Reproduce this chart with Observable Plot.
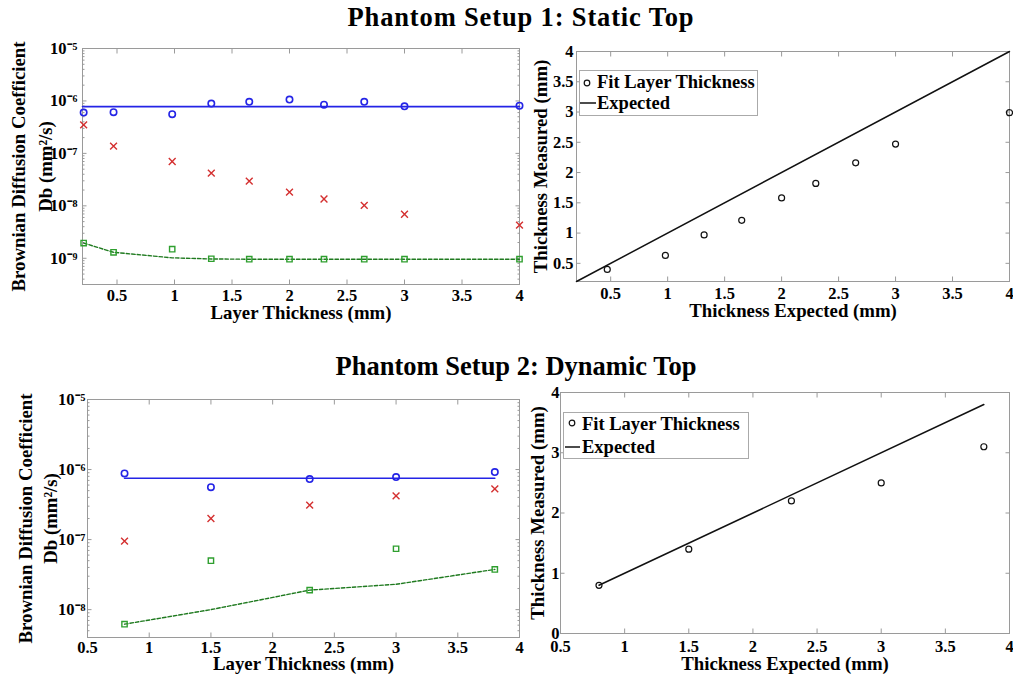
<!DOCTYPE html>
<html>
<head>
<meta charset="utf-8">
<script src="https://cdn.jsdelivr.net/npm/d3@7"></script>
<script src="https://cdn.jsdelivr.net/npm/@observablehq/plot@0.6"></script>
<style>
  html, body { margin: 0; padding: 0; background: white; }
  #fig { position: relative; width: 1013px; height: 674px; overflow: hidden; font-family: "Liberation Serif", "Times New Roman", serif; font-weight: bold; color: #000; }
  .title { position: absolute; font-size: 26.5px; line-height: 26px; white-space: nowrap; transform: translateX(-50%); }
  .legend { position: absolute; }
</style>
</head>
<body>
<div id="fig">
  <div class="title" style="left:521px; top:4px; letter-spacing:0.85px;">Phantom Setup 1: Static Top</div>
  <div class="title" style="left:516px; top:353px;">Phantom Setup 2: Dynamic Top</div>
</div>
<script>
// ---------- Data: Phantom Setup 1 (Static Top) ----------
const thick1    = [0.21, 0.47, 0.98, 1.32, 1.65, 2.0, 2.3, 2.65, 3.0, 4.0];
const blue1     = [6.0e-7, 6.1e-7, 5.6e-7, 8.9e-7, 9.6e-7, 1.06e-6, 8.5e-7, 9.6e-7, 7.9e-7, 8.1e-7];
const red1      = [3.5e-7, 1.38e-7, 7.0e-8, 4.2e-8, 2.95e-8, 1.82e-8, 1.35e-8, 1.02e-8, 6.9e-9, 4.3e-9];
const green1    = [1.95e-9, 1.3e-9, 1.49e-9, 0.98e-9, 0.96e-9, 0.96e-9, 0.96e-9, 0.96e-9, 0.96e-9, 0.96e-9];
const greenFit1 = [1.95e-9, 1.3e-9, 1.02e-9, 0.97e-9, 0.96e-9, 0.96e-9, 0.96e-9, 0.96e-9, 0.96e-9, 0.96e-9];
const blueFit1  = 7.8e-7;
const blueFitRange1 = [0.2, 4.0];
const expected1 = [0.47, 0.98, 1.32, 1.65, 2.0, 2.3, 2.65, 3.0, 4.0];
const measured1 = [0.40, 0.63, 0.97, 1.21, 1.58, 1.82, 2.16, 2.47, 2.99];
const expectedLine1 = [0.2, 4.0];

// ---------- Data: Phantom Setup 2 (Dynamic Top) ----------
const thick2    = [0.8, 1.5, 2.3, 3.0, 3.8];
const blue2     = [8.8e-7, 5.6e-7, 7.3e-7, 7.8e-7, 9.2e-7];
const red2      = [9.5e-8, 2.0e-7, 3.1e-7, 4.2e-7, 5.3e-7];
const green2    = [6.2e-9, 5.0e-8, 1.9e-8, 7.4e-8, 3.75e-8];
const greenFit2 = [6.2e-9, 1.0e-8, 1.9e-8, 2.3e-8, 3.75e-8];
const blueFit2  = 7.5e-7;
const blueFitRange2 = [0.8, 3.8];
const expected2 = [0.8, 1.5, 2.3, 3.0, 3.8];
const measured2 = [0.8, 1.4, 2.2, 2.5, 3.1];
const expectedLine2 = [0.8, 3.8];

// ---------- Ticks / labels ----------
const xTicks = [0.5, 1, 1.5, 2, 2.5, 3, 3.5, 4];
const yTicksLog1 = [1e-9, 1e-8, 1e-7, 1e-6, 1e-5];
const yTicksLog2 = [1e-8, 1e-7, 1e-6, 1e-5];
const yTicksLin1 = [0.5, 1, 1.5, 2, 2.5, 3, 3.5, 4];
const yTicksLin2 = [0, 1, 2, 3, 4];
const minorMult = [2, 3, 4, 5, 6, 7, 8, 9];
const yLabelLine1 = "Brownian Diffusion Coefficient";
const yLabelLine2 = "Db (mm\u00b2/s)";
const xLabelLayer = "Layer Thickness (mm)";
const xLabelExp = "Thickness Expected (mm)";
const yLabelMeas = "Thickness Measured (mm)";
const legendFit = "Fit Layer Thickness";
const legendExp = "Expected";

// ---------- Styling ----------
const BLUE = "#2424e6", RED = "#d43030", GREEN = "#2f9f2f", GREEN_D = "#1f7a1f";
const AX = "#9a9a9a";
const FONT = "Liberation Serif";
const LABEL_SIZE = 18.8;

const supMap = {"-": "\u207b", "0": "\u2070", "1": "\u00b9", "2": "\u00b2", "3": "\u00b3", "4": "\u2074", "5": "\u2075", "6": "\u2076", "7": "\u2077", "8": "\u2078", "9": "\u2079"};
const powFmt = d => "10" + String(Math.round(Math.log10(d))).split("").map(c => supMap[c]).join("");
const numFmt = d => String(d);

function minorLog(decades, domain) {
  const out = [];
  for (const p of decades) for (const m of minorMult) { const v = m * p; if (v > domain[0] && v < domain[1]) out.push(v); }
  return out;
}

function boxTicks(xt, yt, opts = {}) {
  const marks = [
    Plot.axisX({ticks: xt, anchor: "bottom", tickSize: -4.5, tickFormat: () => "", stroke: AX, label: null}),
    Plot.axisX({ticks: xt, anchor: "top", tickSize: -4.5, tickFormat: () => "", stroke: AX, label: null}),
    Plot.axisY({ticks: yt, anchor: "left", tickSize: -4.5, tickFormat: () => "", stroke: AX, label: null}),
    Plot.axisY({ticks: yt, anchor: "right", tickSize: -4.5, tickFormat: () => "", stroke: AX, label: null})
  ];
  if (opts.minor) {
    marks.push(
      Plot.axisY({ticks: opts.minor, anchor: "left", tickSize: -2.5, tickFormat: () => "", stroke: AX, label: null}),
      Plot.axisY({ticks: opts.minor, anchor: "right", tickSize: -2.5, tickFormat: () => "", stroke: AX, label: null})
    );
  }
  return marks;
}

const baseStyle = {fontFamily: FONT, fontSize: "16px", fontWeight: "bold", background: "transparent", overflow: "visible", color: "#000"};

function rows(xs, cols) {
  return xs.map((x, i) => { const r = {x}; for (const k in cols) r[k] = cols[k][i]; return r; });
}

// ---------- Panel builders ----------
function dbPanel({xs, blue, red, green, greenFit, blueFit, blueRange, xDomain, yDomain, yTicks, width, height, margins, xPad, yPad, yl1dx, yl2dx, xlDy}) {
  const data = rows(xs, {blue, red, green, greenFit});
  const fitLine = blueRange.map(x => ({x, y: blueFit}));
  const minor = minorLog([1e-10, 1e-9, 1e-8, 1e-7, 1e-6], yDomain);
  return Plot.plot({
    width, height, ...margins,
    style: baseStyle,
    x: {domain: xDomain, label: null},
    y: {type: "log", domain: yDomain, label: null},
    marks: [
      Plot.frame({stroke: AX}),
      ...boxTicks(xTicks, yTicks, {minor}),
      Plot.axisX({ticks: xTicks, anchor: "bottom", tickSize: 0, tickPadding: xPad, tickFormat: numFmt, label: null, fontSize: 16.5}),
      Plot.axisY({ticks: yTicks, anchor: "left", tickSize: 0, tickPadding: yPad, tickFormat: powFmt, label: null, fontSize: 16.5}),
      Plot.line(fitLine, {x: "x", y: "y", stroke: BLUE, strokeWidth: 1.6}),
      Plot.line(data, {x: "x", y: "greenFit", stroke: GREEN_D, strokeWidth: 1.4, strokeDasharray: "3.5,2"}),
      Plot.dot(data, {x: "x", y: "blue", symbol: "circle", r: 3.2, stroke: BLUE, strokeWidth: 1.6, fill: "none"}),
      Plot.dot(data, {x: "x", y: "red", symbol: "times", r: 3.2, stroke: RED, strokeWidth: 1.4, fill: "none"}),
      Plot.dot(data, {x: "x", y: "green", symbol: "square", r: 3.0, stroke: GREEN, strokeWidth: 1.4, fill: "none"}),
      Plot.text([yLabelLine1], {text: d => d, frameAnchor: "left", textAnchor: "middle", rotate: -90, dx: yl1dx, fontSize: LABEL_SIZE, fontWeight: "bold"}),
      Plot.text([yLabelLine2], {text: d => d, frameAnchor: "left", textAnchor: "middle", rotate: -90, dx: yl2dx, fontSize: LABEL_SIZE, fontWeight: "bold"}),
      Plot.text([xLabelLayer], {text: d => d, frameAnchor: "bottom", lineAnchor: "top", dy: xlDy, fontSize: LABEL_SIZE, fontWeight: "bold"})
    ]
  });
}

function thickPanel({expected, measured, line, xDomain, yDomain, yTicks, width, height, margins, xPad, yPad, yldx, xlDy}) {
  const data = rows(expected, {measured});
  const lineData = line.map(v => ({x: v, y: v}));
  return Plot.plot({
    width, height, ...margins,
    style: baseStyle,
    x: {domain: xDomain, label: null},
    y: {domain: yDomain, label: null},
    marks: [
      Plot.frame({stroke: AX}),
      ...boxTicks(xTicks, yTicks),
      Plot.axisX({ticks: xTicks, anchor: "bottom", tickSize: 0, tickPadding: xPad, tickFormat: numFmt, label: null, fontSize: 16.5}),
      Plot.axisY({ticks: yTicks, anchor: "left", tickSize: 0, tickPadding: yPad, tickFormat: numFmt, label: null, fontSize: 16.5}),
      Plot.line(lineData, {x: "x", y: "y", stroke: "#111", strokeWidth: 1.5}),
      Plot.dot(data, {x: "x", y: "measured", symbol: "circle", r: 3.0, stroke: "#111", strokeWidth: 1.2, fill: "none"}),
      Plot.text([yLabelMeas], {text: d => d, frameAnchor: "left", textAnchor: "middle", rotate: -90, dx: yldx, fontSize: LABEL_SIZE, fontWeight: "bold"}),
      Plot.text([xLabelExp], {text: d => d, frameAnchor: "bottom", lineAnchor: "top", dy: xlDy, fontSize: LABEL_SIZE, fontWeight: "bold"})
    ]
  });
}

const fig = document.getElementById("fig");
function place(el, left, top) {
  el.style.position = "absolute";
  el.style.left = left + "px";
  el.style.top = top + "px";
  el.style.maxWidth = "none";
  fig.appendChild(el);
}

// Panel A: top-left
place(dbPanel({
  xs: thick1, blue: blue1, red: red1, green: green1, greenFit: greenFit1,
  blueFit: blueFit1, blueRange: blueFitRange1,
  xDomain: [0.2, 4], yDomain: [Math.pow(10, -9.5), 1e-5], yTicks: yTicksLog1,
  width: 530, height: 300, margins: {marginLeft: 82, marginRight: 11, marginTop: 18, marginBottom: 46},
  xPad: 5, yPad: 5, yl1dx: -64, yl2dx: -37, xlDy: 21
}), 0, 30);

// Panel B: top-right
place(thickPanel({
  expected: expected1, measured: measured1, line: expectedLine1,
  xDomain: [0.2, 4], yDomain: [0.2, 4], yTicks: yTicksLin1,
  width: 493, height: 300, margins: {marginLeft: 56, marginRight: 4, marginTop: 21, marginBottom: 49},
  xPad: 6, yPad: 3, yldx: -36, xlDy: 22
}), 520, 30);

// Panel C: bottom-left
place(dbPanel({
  xs: thick2, blue: blue2, red: red2, green: green2, greenFit: greenFit2,
  blueFit: blueFit2, blueRange: blueFitRange2,
  xDomain: [0.5, 4], yDomain: [4e-9, 1e-5], yTicks: yTicksLog2,
  width: 530, height: 304, margins: {marginLeft: 87, marginRight: 11, marginTop: 29, marginBottom: 37},
  xPad: 4, yPad: 2, yl1dx: -62, yl2dx: -37, xlDy: 19
}), 0, 370);

// Panel D: bottom-right
place(thickPanel({
  expected: expected2, measured: measured2, line: expectedLine2,
  xDomain: [0.5, 4], yDomain: [0, 4], yTicks: yTicksLin2,
  width: 493, height: 304, margins: {marginLeft: 40, marginRight: 4, marginTop: 22, marginBottom: 41},
  xPad: 7, yPad: 1, yldx: -23, xlDy: 23
}), 520, 370);

// ---------- Legends ----------
function legend(left, top, w, h, circ, dash, t1, t2) {
  const ns = "http://www.w3.org/2000/svg";
  const svg = document.createElementNS(ns, "svg");
  svg.setAttribute("width", w + 2);
  svg.setAttribute("height", h + 2);
  svg.setAttribute("class", "legend");
  svg.style.left = left + "px";
  svg.style.top = top + "px";
  svg.style.overflow = "visible";
  const mk = (tag, attrs) => { const e = document.createElementNS(ns, tag); for (const k in attrs) e.setAttribute(k, attrs[k]); svg.appendChild(e); return e; };
  mk("rect", {x: 0.5, y: 0.5, width: w, height: h, fill: "white", stroke: "#aaa", "stroke-width": 1});
  mk("circle", {cx: circ[0], cy: circ[1], r: 2.8, fill: "none", stroke: "#111", "stroke-width": 1.2});
  mk("line", {x1: dash[0], x2: dash[1], y1: dash[2], y2: dash[2], stroke: "#111", "stroke-width": 1.5});
  const txt = (s, x, y) => { const e = mk("text", {x, y, "font-family": FONT, "font-weight": "bold", "font-size": 18.5, fill: "#000"}); e.textContent = s; };
  txt(legendFit, t1[0], t1[1]);
  txt(legendExp, t2[0], t2[1]);
  fig.appendChild(svg);
}
legend(579, 70, 178, 45, [8, 13], [1, 17, 33], [18, 18], [18, 39]);
legend(563, 412, 185, 46, [9, 11], [2, 17, 35], [19, 18], [19, 41]);
</script>
</body>
</html>
